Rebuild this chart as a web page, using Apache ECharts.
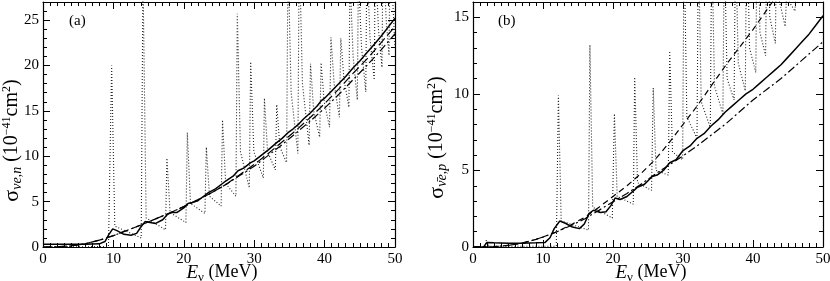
<!DOCTYPE html>
<html><head><meta charset="utf-8">
<script src="https://cdn.jsdelivr.net/npm/echarts@6/dist/echarts.min.js"></script>
<style>html,body{margin:0;padding:0;background:#fff}#c{width:830px;height:281px}</style>
</head><body><div id="c"></div>
<script>
// ---------- Panel (a) data ----------
const aSolidE = [0,2,4,6,8,8.8,9.3,9.9,10.5,11.5,12.5,13.3,13.9,14.5,15.2,16,17,17.7,18.2,19,20,20.6,21.2,22,23,23.5,24.5,25.5,26,27,27.7,28.5,29.5,30,31.5,32,33.2,34,34.8,35.5,36.4,37,38,39,39.5,40,41,42,43,44,45,46,47,48,49,50];
const aSolidV = [0.3,0.3,0.3,0.3,0.35,0.6,1.3,2.0,1.8,1.4,1.3,1.5,2.2,2.8,2.7,2.6,3.0,3.6,3.8,3.8,4.3,4.8,4.9,5.1,5.7,6.0,6.4,7.0,7.3,7.8,8.4,8.7,9.3,9.5,10.4,10.7,11.5,12.0,12.6,13.0,13.6,14.1,14.8,15.6,16.1,16.4,17.2,18.0,18.8,19.7,20.5,21.4,22.3,23.2,24.2,25.2];
const aDashE = [0,2,4,6,8,10,12,14,16,18,20,22,24,26,28,30,32,34,36,38,40,42,44,46,48,50];
const aDashV = [0,0.03,0.12,0.35,0.75,1.25,1.85,2.45,3.1,3.75,4.45,5.2,6.0,6.9,8.0,9.1,10.3,11.6,12.9,14.3,15.8,17.4,19.1,20.7,22.5,24.3];
const aDashDotV = [0,0.03,0.12,0.35,0.75,1.25,1.85,2.45,3.1,3.75,4.45,5.2,6.0,6.9,7.9,8.9,10.1,11.3,12.6,13.9,15.3,16.8,18.4,20.0,21.7,23.5];
const aDotE = [0,9.3,9.75,10.2,13.95,14.2,14.65,17.4,17.6,18.05,20.3,20.5,20.95,23.0,23.2,23.65,25.3,25.5,25.95,27.4,27.6,28.05,29.3,29.5,29.95,31.3,31.45,31.9,33.0,33.2,33.65,34.6,34.8,35.25,36.2,36.4,36.85,37.8,38.0,38.45,39.3,39.5,39.95,40.7,40.9,41.35,42.1,42.3,42.75,43.45,43.6,44.05,44.65,44.8,45.25,45.85,46.0,46.45,47.05,47.2,47.65,48.15,48.3,48.75,49.15,49.3,49.75,50];
const aDotV = [0,0.05,20.0,2.3,1.0,30,3.2,1.9,9.8,3.8,2.7,12.6,4.8,3.7,11.0,5.6,4.5,14.0,7.0,5.6,25.7,10.5,6.5,20.4,10.5,7.6,16.4,10.5,8.5,15.7,11.0,9.3,32,17,10.3,33,18,11.2,20.2,15,12.1,20.3,16,13.2,23.1,18,14.3,23.0,18.5,15.4,30,21,16.2,30,22,17.1,32,23,18.4,32,24,19.8,33,25,21.1,34,26,22];

// ---------- Panel (b) data ----------
const bSolidE = [0,1.5,2.0,3,5,7,9,10.3,11,11.6,12.4,13.2,14.2,15.2,15.9,16.6,17.2,18.2,19,19.7,20.3,21,22,23,23.5,24.5,25.6,26.3,27.2,28.1,29,30,31,32,33,34,35,36,37,38,39,40,41,42,43,44,45,46,47,48,49,50];
const bSolidV = [0,0,0.3,0.28,0.25,0.25,0.27,0.3,0.6,1.2,1.7,1.55,1.3,1.2,1.5,2.2,2.4,2.25,2.3,2.7,3.2,3.1,3.3,3.7,3.9,4.1,4.6,4.7,5.0,5.5,5.7,6.3,6.6,7.1,7.4,7.9,8.3,8.8,9.2,9.6,10.0,10.3,10.7,11.1,11.5,11.9,12.4,12.9,13.4,13.9,14.5,15.1];
const bDashE = [0,3,5,7,9,10,12,14,16,18,20,22,24,26,28,30,32,34,36,38,40,42,44,46,48,50];
const bDashV = [0,0.02,0.1,0.25,0.5,0.65,1.0,1.45,1.95,2.6,3.3,4.0,4.8,5.7,6.8,8.0,9.2,10.5,11.8,13.0,14.2,15.5,16.8,18.2,19.6,21];
const bDashDotV = [0,0.02,0.1,0.25,0.5,0.65,1.0,1.4,1.85,2.4,2.95,3.5,4.1,4.75,5.35,5.95,6.6,7.3,8.0,8.8,9.6,10.3,11.0,11.8,12.6,13.4];
const bDotE = [0,1.7,1.9,2.3,11.9,12.2,12.6,16.5,16.7,17.1,19.9,20.2,20.6,22.9,23.1,23.5,25.5,25.75,26.15,27.9,28.1,28.5,29.95,30.15,30.55,32.0,32.2,32.6,33.9,34.1,34.5,35.7,35.9,36.3,37.3,37.5,37.9,38.9,39.1,39.5,40.4,40.6,41.0,41.8,42.0,42.4,43.2,43.4,43.8,44.6,44.8,45.2,46.0,46.2,46.6,50];
const bDotV = [0,0,0.45,0.05,0.05,9.9,1.7,1.1,13.2,2.6,1.9,8.7,3.3,2.8,11.1,4.2,3.7,10.4,5.0,4.7,12.8,6.2,5.7,20,8.5,7.1,20,9.5,7.8,20,10.5,8.7,20,11,9.6,20,12,10.2,22,13,11.4,22,14,12.5,22,15,13.3,22,16,14.4,16.5,16,15.4,17,17,22];

function pairs(E, V){ return E.map((e,i)=>[e,V[i]]); }

const serif = 'Liberation Serif';
function xAx(grid, pos, show){
  return {type:'value', gridIndex:grid, position:pos, min:0, max:50, interval:10,
    axisLine:{show:true, onZero:false, lineStyle:{color:'#000', width:1.2}},
    axisTick:{show:true, inside:true, length:7, lineStyle:{color:'#000', width:1}},
    minorTick:{show:true, splitNumber:10, length:4, lineStyle:{color:'#000', width:1}},
    splitLine:{show:false}, minorSplitLine:{show:false},
    axisLabel:{show:show, color:'#000', fontFamily:serif, fontSize:15, margin:5},
    name: show ? '{i|E}{sub|ν}{t| (MeV)}' : '', nameLocation:'middle', nameGap:14, nameMoveOverlap:false,
    nameTextStyle:{color:'#000', fontFamily:serif, fontSize:18, padding:[0,0,0,6],
      rich:{i:{fontStyle:'italic', fontFamily:serif, fontSize:19, color:'#000'},
            t:{fontFamily:serif, fontSize:18, color:'#000'},
            sub:{fontFamily:serif, fontSize:13, color:'#000', padding:[10,0,0,0]}}}
  };
}
function yAx(grid, pos, show, max, name, gap, shift){
  return {type:'value', gridIndex:grid, position:pos, min:0, max:max, interval:5,
    axisLine:{show:true, onZero:false, lineStyle:{color:'#000', width:1.2}},
    axisTick:{show:true, inside:true, length:7, lineStyle:{color:'#000', width:1}},
    minorTick:{show:true, splitNumber:5, length:4, lineStyle:{color:'#000', width:1}},
    splitLine:{show:false}, minorSplitLine:{show:false},
    axisLabel:{show:show, color:'#000', fontFamily:serif, fontSize:15, margin:4, showMaxLabel:false},
    name: show ? name : '', nameLocation:'middle', nameRotate:90, nameGap:gap, nameMoveOverlap:false,
    nameTextStyle:{color:'#000', fontFamily:serif, fontSize:20, padding:[0,shift,0,0],
      rich:{s:{fontFamily:serif, fontSize:22, color:'#000'},
            sub:{fontFamily:serif, fontSize:14, fontStyle:'italic', color:'#000', padding:[10,0,0,0]},
            sup:{fontFamily:serif, fontSize:12, color:'#000', padding:[0,0,10,0]},
            t:{fontFamily:serif, fontSize:20, color:'#000'}}}
  };
}
function ser(name, data, xi, yi, type, width, color){
  return {name, type:'line', data, xAxisIndex:xi, yAxisIndex:yi, showSymbol:false, symbol:'none',
    smooth:false, clip:true, lineStyle:{color:color||'#000', width:width, type:type}, animation:false, z:2};
}

const chart = echarts.init(document.getElementById('c'), null, {renderer:'canvas'});
chart.setOption({
  animation:false,
  backgroundColor:'#fff',
  grid:[{left:43, top:2, width:352, height:245, outerBoundsMode:'none', containLabel:false},
        {left:473, top:2, width:350, height:245, outerBoundsMode:'none', containLabel:false}],
  xAxis:[xAx(0,'bottom',true), xAx(0,'top',false), xAx(1,'bottom',true), xAx(1,'top',false)],
  yAxis:[yAx(0,'left',true,27,'{s|σ}{sub|νe,n}{t| (10}{sup|−41}{t|cm}{sup|2}{t|)}', 19, 32), yAx(0,'right',false,27,'',0,0),
         yAx(1,'left',true,16,'{s|σ}{sub|ν̄e,p}{t| (10}{sup|−41}{t|cm}{sup|2}{t|)}', 24, 26), yAx(1,'right',false,16,'',0,0)],
  series:[
    ser('a dotted', pairs(aDotE,aDotV), 0, 0, [1,2], 1.1, '#222'),
    ser('a dashed', pairs(aDashE,aDashV), 0, 0, [9,4], 1.2),
    ser('a dashdot', pairs(aDashE,aDashDotV), 0, 0, [8,3,2,3], 1.2),
    ser('a solid', pairs(aSolidE,aSolidV), 0, 0, 'solid', 1.5),
    ser('b dotted', pairs(bDotE,bDotV), 2, 2, [1,2], 1.1, '#222'),
    ser('b dashed', pairs(bDashE,bDashV), 2, 2, [6,4], 1.2),
    ser('b dashdot', pairs(bDashE,bDashDotV), 2, 2, [8,3,2,3], 1.2),
    ser('b solid', pairs(bSolidE,bSolidV), 2, 2, 'solid', 1.5)
  ],
  graphic:[
    {type:'text', left:69, top:14, style:{text:'(a)', font:'15px "Liberation Serif"', fill:'#000'}},
    {type:'text', left:498, top:14, style:{text:'(b)', font:'15px "Liberation Serif"', fill:'#000'}}
  ]
});
</script></body></html>
